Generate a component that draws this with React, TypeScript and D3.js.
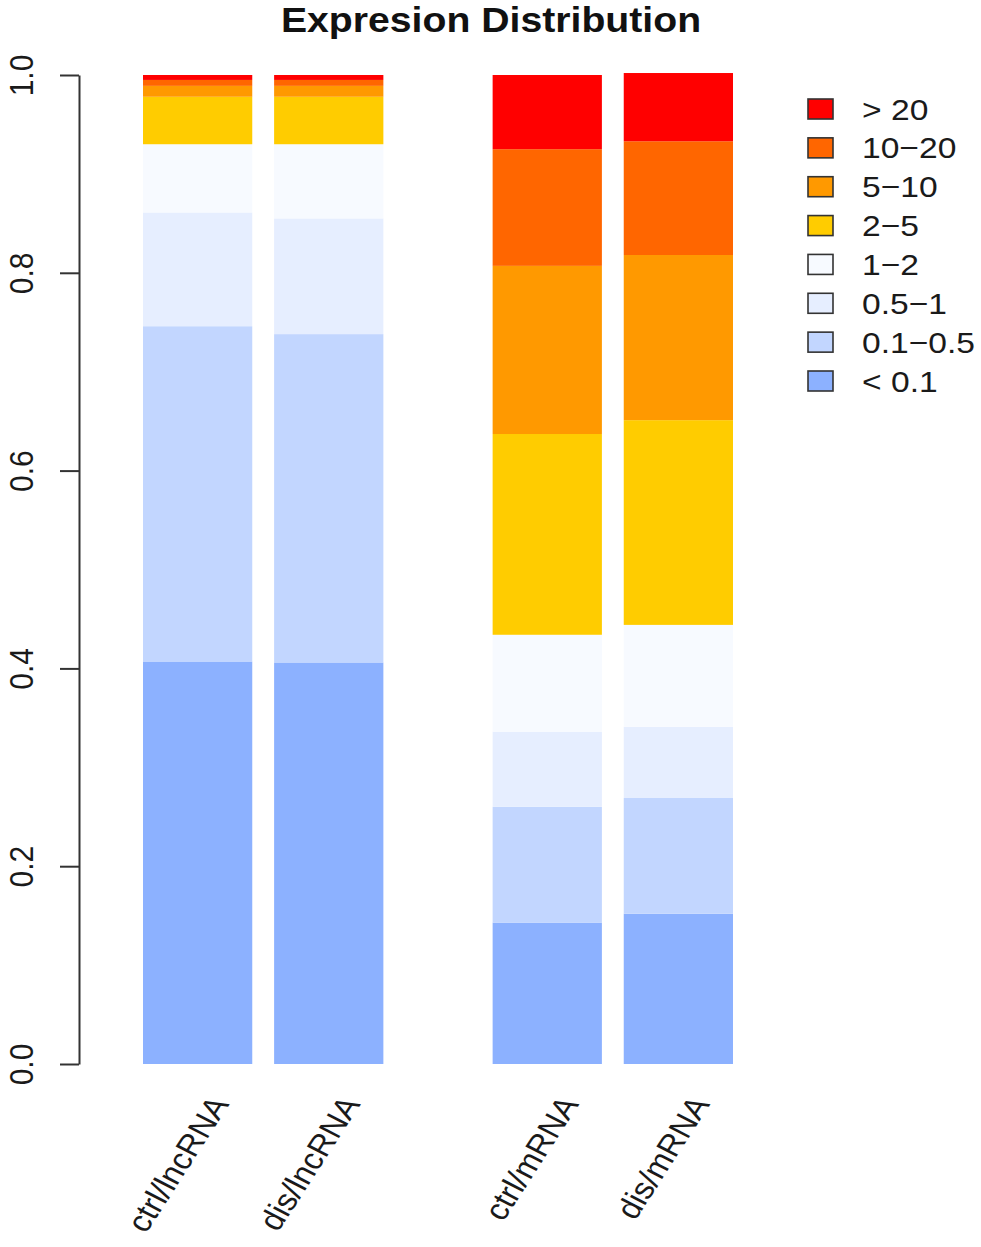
import React, { useEffect, useRef } from 'react';
import * as d3 from 'd3';

// Fractions per sample, bins listed bottom to top
const categories = ['ctrl/lncRNA', 'dis/lncRNA', 'ctrl/mRNA', 'dis/mRNA'];
const bins = ['< 0.1', '0.1\u22120.5', '0.5\u22121', '1\u22122', '2\u22125', '5\u221210', '10\u221220', '> 20'];
const binColors = ['#8cb1ff', '#c2d6ff', '#e6eeff', '#f7faff', '#ffcc00', '#ff9900', '#ff6600', '#ff0000'];

const lt0_1 = [0.407, 0.406, 0.143, 0.152];
const b0_1to0_5 = [0.339, 0.332, 0.117, 0.117];
const b0_5to1 = [0.115, 0.117, 0.076, 0.072];
const b1to2 = [0.069, 0.075, 0.098, 0.103];
const b2to5 = [0.048, 0.048, 0.203, 0.207];
const b5to10 = [0.011, 0.011, 0.170, 0.167];
const b10to20 = [0.006, 0.006, 0.118, 0.115];
const gt20 = [0.005, 0.005, 0.075, 0.069];

const yTicks = [0, 0.2, 0.4, 0.6, 0.8, 1.0];
// R barplot style spacing before each bar
const barSpace = [0.2, 0.2, 1.0, 0.2];

const W = 981;
const H = 1247;
const SX = 1.12; // the source image is a bit stretched horizontally
const FONT = '"Liberation Sans", Arial, Helvetica, sans-serif';

const App: React.FC = () => {
    const svgRef = useRef<SVGSVGElement>(null);

    useEffect(() => {
        if (!svgRef.current) return;
        const svg = d3.select(svgRef.current);
        svg.selectAll('*').remove();

        const series = [lt0_1, b0_1to0_5, b0_5to1, b1to2, b2to5, b5to10, b10to20, gt20];
        const table = categories.map((c, i) => {
            const row: any = { cat: c };
            bins.forEach((b, j) => { row[b] = series[j][i]; });
            return row;
        });
        const stacked = d3.stack<any>().keys(bins)(table);

        // bar left edges in bar-width units
        const lefts: number[] = [];
        let acc = 0;
        barSpace.forEach((s) => { acc += s; lefts.push(acc); acc += 1; });

        const x = d3.scaleLinear().domain([lefts[0], acc]).range([143, 733]);
        const y = d3.scaleLinear().domain([0, 1]).range([1064, 75]);

        svg.append('rect').attr('width', W).attr('height', H).attr('fill', '#fff');

        svg.append('g')
            .selectAll('g')
            .data(stacked)
            .enter()
            .append('g')
            .attr('fill', (_d, i) => binColors[i])
            .selectAll('rect')
            .data(d => d.map((v, i) => ({ v, i })))
            .enter()
            .append('rect')
            .attr('x', d => x(lefts[d.i]))
            .attr('width', d => x(lefts[d.i] + 1) - x(lefts[d.i]))
            .attr('y', d => y(d.v[1]))
            .attr('height', d => y(d.v[0]) - y(d.v[1]));

        // y axis
        const axis = svg.append('g')
            .attr('transform', 'translate(79,0)')
            .call(d3.axisLeft(y).tickValues(yTicks).tickSize(19).tickSizeOuter(0).tickFormat(d3.format('.1f')));
        axis.select('.domain').attr('stroke', '#333').attr('stroke-width', 2);
        axis.selectAll('.tick line').attr('stroke', '#333').attr('stroke-width', 2);
        axis.selectAll('.tick text')
            .attr('x', null)
            .attr('dy', null)
            .attr('transform', `translate(-46,0) scale(${SX},1) rotate(-90)`)
            .attr('text-anchor', 'middle')
            .style('font-family', FONT)
            .style('font-size', '30px')
            .attr('fill', '#1a1a1a');

        // category labels
        svg.append('g')
            .selectAll('text')
            .data(categories)
            .enter()
            .append('text')
            .attr('transform', (_d, i) => `translate(${x(lefts[i] + 0.5) + 22},1099) scale(${SX},1) rotate(-60)`)
            .attr('text-anchor', 'end')
            .attr('dy', '0.35em')
            .style('font-family', FONT)
            .style('font-size', '30px')
            .attr('fill', '#1a1a1a')
            .text(d => d);

        // title
        svg.append('text')
            .attr('transform', `translate(491,32) scale(${SX},1)`)
            .attr('text-anchor', 'middle')
            .style('font-family', FONT)
            .style('font-size', '35px')
            .style('font-weight', 'bold')
            .attr('fill', '#111')
            .text('Expresion Distribution');

        // legend, top to bottom
        const legendItems = bins.map((b, i) => ({ b, c: binColors[i] })).reverse();
        const ly = d3.scaleLinear().domain([0, legendItems.length - 1]).range([109, 381]);
        const lg = svg.append('g');
        const rows = lg.selectAll('g')
            .data(legendItems)
            .enter()
            .append('g')
            .attr('transform', (_d, i) => `translate(0,${ly(i)})`);
        rows.append('rect')
            .attr('x', 808)
            .attr('y', -10)
            .attr('width', 25)
            .attr('height', 20)
            .attr('fill', d => d.c)
            .attr('stroke', '#333')
            .attr('stroke-width', 1.6);
        rows.append('text')
            .attr('transform', `translate(862,0) scale(${SX},1)`)
            .attr('dy', '0.35em')
            .style('font-family', FONT)
            .style('font-size', '30px')
            .attr('fill', '#1a1a1a')
            .text(d => d.b);
    }, []);

    return (
        <svg ref={svgRef} width={W} height={H} style={{ position: 'absolute', left: 0, top: 0 }} />
    );
};

export default App;
